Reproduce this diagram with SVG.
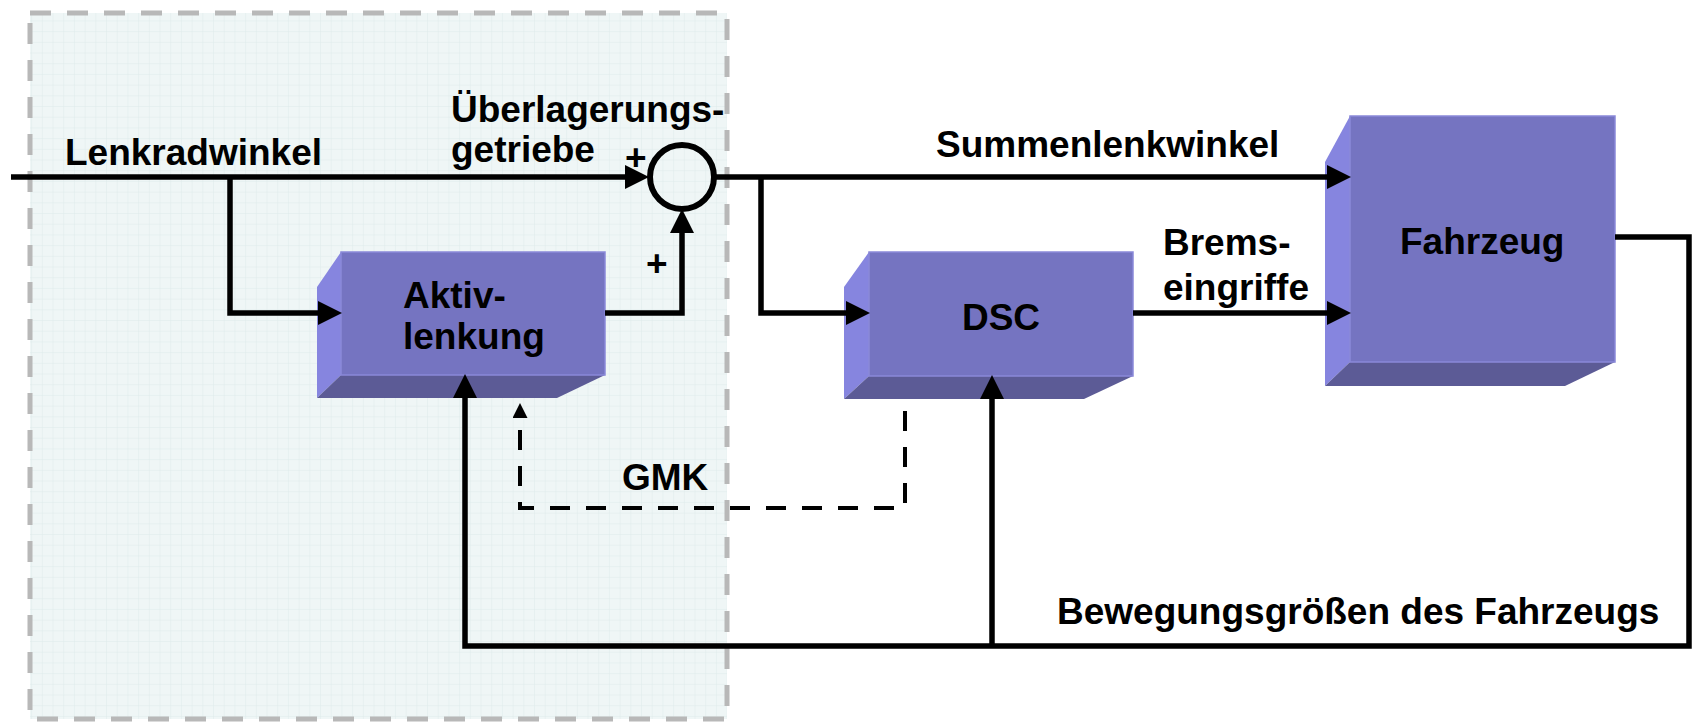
<svg xmlns="http://www.w3.org/2000/svg" width="1694" height="722" viewBox="0 0 1694 722">
<style>
text{font-family:"Liberation Sans",Arial,sans-serif;font-weight:bold;font-size:37px;fill:#000}
.front{fill:#7574C1;stroke:#8A89D9;stroke-width:1.5}
.side{fill:#8685DF}
.bottom{fill:#5C5B96}
.conn{fill:none;stroke:#000;stroke-width:5.5;stroke-linejoin:miter;stroke-linecap:butt}
.dash{fill:none;stroke:#000;stroke-width:4;stroke-dasharray:20 16}
</style>
<defs>
<pattern id="grid" width="10.7" height="10.7" patternUnits="userSpaceOnUse">
<rect width="10.7" height="10.7" fill="#EFF6F6"/>
<path d="M10.7,0 V10.7 M0,10.7 H10.7" fill="none" stroke="#DEEBEB" stroke-width="1"/>
</pattern>
<marker id="arr" markerUnits="userSpaceOnUse" markerWidth="25" markerHeight="25" refX="11" refY="12" orient="auto">
<path d="M0,0 L24,12 L0,24 z" fill="#000"/>
</marker>
<marker id="arrs" markerUnits="userSpaceOnUse" markerWidth="16" markerHeight="16" refX="6" refY="7.5" orient="auto">
<path d="M0,0 L15,7.5 L0,15 z" fill="#000"/>
</marker>
</defs>
<rect width="1694" height="722" fill="#fff"/>
<g id="region">
<rect x="30" y="13" width="697" height="706" fill="url(#grid)"/>
<rect x="30" y="13" width="697" height="706" fill="none" stroke="#B8B8B8" stroke-width="5" stroke-dasharray="21 16"/>
</g>
<g id="aktivlenkung">
<polygon class="side" points="317,287 341,252 341,375 317,398"/>
<polygon class="bottom" points="317,398 341,375 605,375 557,398"/>
<rect class="front" x="341" y="252" width="264" height="123"/>
<text x="403" y="308">Aktiv-</text>
<text x="403" y="349">lenkung</text>
</g>
<g id="dsc">
<polygon class="side" points="844,287 869,252 869,376 844,399"/>
<polygon class="bottom" points="844,399 869,376 1133,376 1084,399"/>
<rect class="front" x="869" y="252" width="264" height="124"/>
<text x="1001" y="330" text-anchor="middle">DSC</text>
</g>
<g id="fahrzeug">
<polygon class="side" points="1325,162 1350,116 1350,362 1325,386"/>
<polygon class="bottom" points="1325,386 1350,362 1615,362 1565,386"/>
<rect class="front" x="1350" y="116" width="265" height="246"/>
<text x="1400" y="254">Fahrzeug</text>
</g>
<g id="summation">
<circle cx="682" cy="177" r="32" fill="none" stroke="#000" stroke-width="6"/>
</g>
<g id="connectors">
<path class="conn" d="M11,177 H636" marker-end="url(#arr)"/>
<path class="conn" d="M230,177 V313 H329" marker-end="url(#arr)"/>
<path class="conn" d="M605,313 H682 V222" marker-end="url(#arr)"/>
<path class="conn" d="M714,177 H1338" marker-end="url(#arr)"/>
<path class="conn" d="M761,177 V313 H857" marker-end="url(#arr)"/>
<path class="conn" d="M1133,313 H1338" marker-end="url(#arr)"/>
<path class="conn" d="M1615,237 H1689 V646 H465 V387" marker-end="url(#arr)"/>
<path class="conn" d="M992,646 V388" marker-end="url(#arr)"/>
<path class="dash" d="M905,411 V508 H520 V412" marker-end="url(#arrs)"/>
</g>
<g id="labels">
<text x="65" y="165">Lenkradwinkel</text>
<text x="451" y="122">Überlagerungs-</text>
<text x="451" y="162">getriebe</text>
<text x="625" y="170">+</text>
<text x="646" y="276">+</text>
<text x="936" y="157">Summenlenkwinkel</text>
<text x="1163" y="255">Brems-</text>
<text x="1163" y="300">eingriffe</text>
<text x="622" y="490">GMK</text>
<text x="1057" y="624">Bewegungsgrößen des Fahrzeugs</text>
</g>
</svg>
